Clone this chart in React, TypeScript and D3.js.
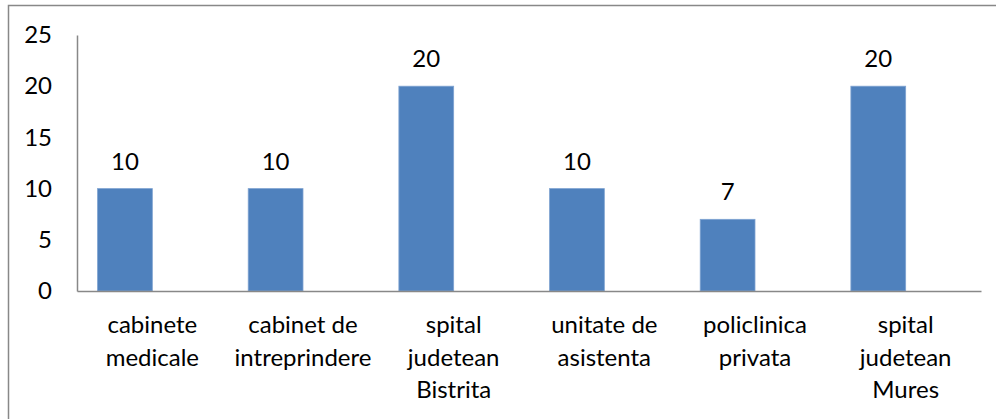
import React, { useEffect, useRef } from 'react'
import { select, scaleBand, scaleLinear, axisLeft, axisBottom } from 'd3'

const categories = [
  'cabinete medicale',
  'cabinet de intreprindere',
  'spital judetean Bistrita',
  'unitate de asistenta',
  'policlinica privata',
  'spital judetean Mures',
]
// wrapped lines for category labels, as in the original
const categoryLines = [
  ['cabinete', 'medicale'],
  ['cabinet de', 'intreprindere'],
  ['spital', 'judetean', 'Bistrita'],
  ['unitate de', 'asistenta'],
  ['policlinica', 'privata'],
  ['spital', 'judetean', 'Mures'],
]
const counts = [10, 10, 20, 10, 7, 20]
const yTicks = [0, 5, 10, 15, 20, 25]
// second (empty) series slot, Excel clustered layout
const seriesSlots = ['count', 'empty']

const W = 996
const H = 419
const FONT = 'Lato, "Open Sans", sans-serif'
const FS = '24px'

function App() {
  const ref = useRef<SVGSVGElement>(null)

  useEffect(() => {
    const svg = select(ref.current)
    svg.selectAll('*').remove()

    const margin = { top: 35, right: 15, bottom: 128, left: 77 }

    // chart frame
    svg.append('rect')
      .attr('x', 8.5)
      .attr('y', 5.5)
      .attr('width', W + 10)
      .attr('height', H + 10)
      .attr('fill', 'white')
      .attr('stroke', '#888')
      .attr('stroke-width', 1.5)

    const x = scaleBand()
      .domain(categories)
      .range([margin.left, W - margin.right])
      .padding(0)

    const sub = scaleBand()
      .domain(seriesSlots)
      .range([0, x.bandwidth()])
      .paddingInner(0)
      .paddingOuter(0.375)

    const y = scaleLinear()
      .domain([0, 25])
      .range([H - margin.bottom, margin.top])

    //y axis
    const yAxis = svg.append('g')
      .attr('transform', `translate(${margin.left},0)`)
      .call(axisLeft(y).tickValues(yTicks).tickSize(0).tickPadding(25))
    yAxis.select('path')
      .attr('stroke', '#888')
      .attr('stroke-width', 1.5)
    yAxis.selectAll('text')
      .style('font-family', FONT)
      .style('font-size', FS)
      .attr('fill', '#000')

    //bars
    svg.selectAll('rect.bar')
      .data(counts)
      .enter()
      .append('rect')
      .attr('class', 'bar')
      .attr('x', (d, i) => x(categories[i])! + sub('count')!)
      .attr('y', d => y(d))
      .attr('width', sub.bandwidth())
      .attr('height', d => y(0) - y(d))
      .attr('fill', '#4F81BD')
      .attr('stroke', '#7fa3d1')
      .attr('stroke-width', 0.8)

    //x axis
    const xAxis = svg.append('g')
      .attr('transform', `translate(0,${y(0)})`)
      .call(axisBottom(x).tickSize(0).tickFormat(() => ''))
    xAxis.select('path')
      .attr('stroke', '#888')
      .attr('stroke-width', 1.5)

    //value labels
    svg.selectAll('text.value')
      .data(counts)
      .enter()
      .append('text')
      .attr('class', 'value')
      .attr('x', (d, i) => x(categories[i])! + sub('count')! + sub.bandwidth() / 2)
      .attr('y', d => y(d) - 19)
      .attr('text-anchor', 'middle')
      .style('font-family', FONT)
      .style('font-size', FS)
      .attr('fill', '#000')
      .text(d => d)

    //category labels
    const cat = svg.selectAll('text.cat')
      .data(categories)
      .enter()
      .append('text')
      .attr('class', 'cat')
      .attr('text-anchor', 'middle')
      .style('font-family', FONT)
      .style('font-size', FS)
      .attr('fill', '#000')
    cat.each(function (c, i) {
      const cx = x(c)! + x.bandwidth() / 2
      categoryLines[i].forEach((line, j) => {
        select(this).append('tspan')
          .attr('x', cx)
          .attr('y', y(0) + 42 + j * 32.5)
          .text(line)
      })
    })
  }, [])

  return (
    <div style={{ position: 'absolute', left: 0, top: 0 }}>
      <svg ref={ref} width={W} height={H} style={{ display: 'block' }}></svg>
    </div>
  )
}

export default App
